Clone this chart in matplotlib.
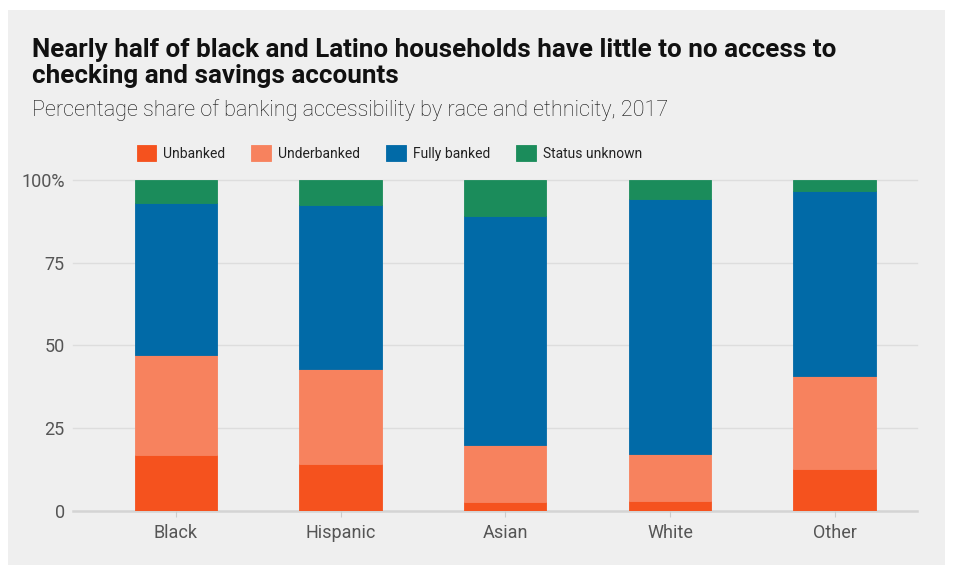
import matplotlib
matplotlib.use("Agg")
import matplotlib.pyplot as plt
from matplotlib.patches import Rectangle
import numpy as np

groups = ["Black", "Hispanic", "Asian", "White", "Other"]
unbanked = [16.7, 14.0, 2.5, 3.0, 12.6]
underbanked = [30.4, 28.7, 17.3, 14.0, 28.0]
fully_banked = [45.9, 49.8, 69.4, 77.4, 56.0]
status_unknown = [7.0, 7.5, 10.8, 5.6, 3.4]

series = [
    ("Unbanked", unbanked, "#F5521E"),
    ("Underbanked", underbanked, "#F7825E"),
    ("Fully banked", fully_banked, "#016AA7"),
    ("Status unknown", status_unknown, "#1B8C5B"),
]
yticks = [0, 25, 50, 75, 100]
ytick_labels = ["0", "25", "50", "75", "100%"]

plt.rcParams["font.family"] = ["Roboto", "DejaVu Sans"]
W, H = 955, 575
fig = plt.figure(figsize=(W / 100, H / 100), dpi=100, facecolor="white")

# grey card behind everything
fig.patches.append(Rectangle((8 / W, 1 - 565 / H), 937 / W, 555 / H,
                             transform=fig.transFigure, facecolor="#efefef",
                             edgecolor="none", zorder=-5))

fig.text(32 / W, 1 - 57 / H, "Nearly half of black and Latino households have little to no access to",
         fontsize=18.7, fontweight="bold", color="#111111", va="baseline")
fig.text(32 / W, 1 - 83 / H, "checking and savings accounts",
         fontsize=18.7, fontweight="bold", color="#111111", va="baseline")
fig.text(32 / W, 1 - 116 / H, "Percentage share of banking accessibility by race and ethnicity, 2017",
         fontsize=15.6, fontweight="light", color="#111111", va="baseline")

ax = fig.add_axes([73 / W, 1 - 510.5 / H, 844 / W, 330.5 / H])
ax.set_facecolor("none")
ax.set_zorder(2)
x = np.arange(len(groups))
bottom = np.zeros(len(groups))
handles = []
for name, vals, col in series:
    b = ax.bar(x, vals, width=0.5, bottom=bottom, color=col, label=name,
               edgecolor=col, linewidth=0.6, zorder=3)
    handles.append(b)
    bottom += np.array(vals)

ax.set_ylim(0, 100)
ax.set_xlim(-0.625, 4.5)
for t in yticks:
    ax.axhline(t, color="#dddddd" if t else "#d4d4d4", lw=1.0 if t else 1.8,
               zorder=1, clip_on=False)
for s in ax.spines.values():
    s.set_visible(False)
ax.set_yticks(yticks)
ax.set_yticklabels(ytick_labels)
ax.set_xticks(x)
ax.set_xticklabels(groups)
ax.tick_params(axis="y", length=0, pad=6, labelsize=13, labelcolor="#555555")
ax.tick_params(axis="x", length=4, width=0.8, color="#cccccc", pad=6,
               labelsize=13, labelcolor="#555555")

leg = fig.legend(handles=handles, loc="center left", ncol=4,
                 bbox_to_anchor=(124 / W, 1 - 153 / H), frameon=False,
                 fontsize=10, handlelength=1.4, handleheight=1.4,
                 handletextpad=0.5, columnspacing=1.9)
for t in leg.get_texts():
    t.set_color("#222222")

fig.savefig("out.png", dpi=100, facecolor="white")
